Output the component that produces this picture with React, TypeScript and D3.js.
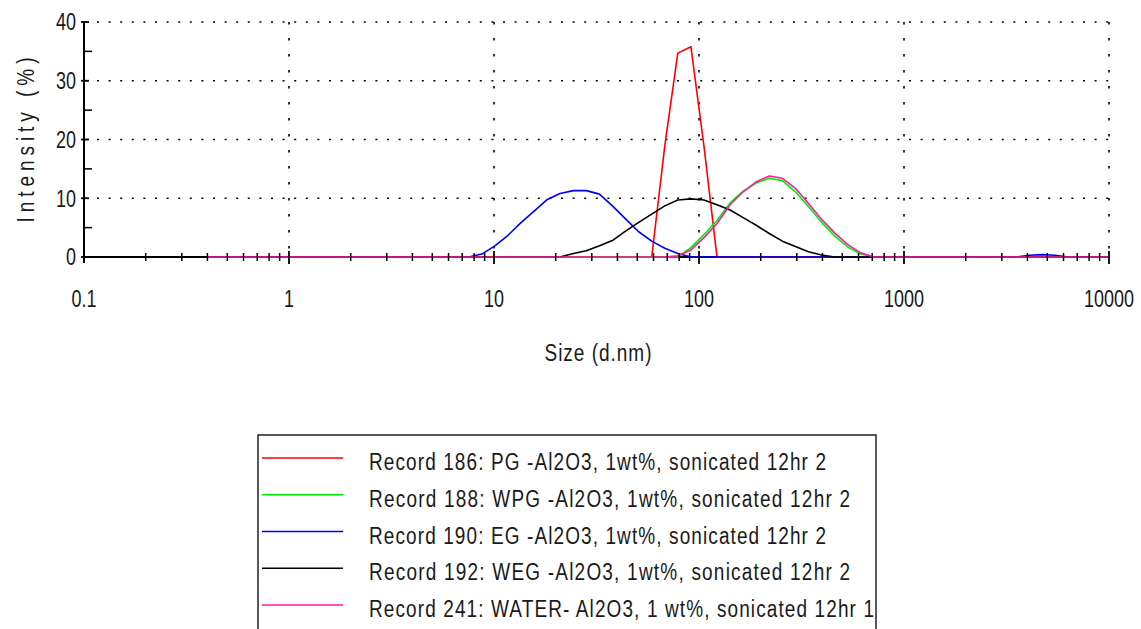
// @ts-nocheck
import React from "react";
import * as d3 from "d3";

// axis ticks
const xDecades = [0.1, 1, 10, 100, 1000, 10000];
const xTickLabels = ["0.1", "1", "10", "100", "1000", "10000"];
const yMajorTicks = [0, 10, 20, 30, 40];
const yMinorTicks = [5, 15, 25, 35];

// [size d.nm, intensity %]
const pg = [[0.4, 0], [58.8, 0], [68.1, 18.9], [78.8, 34.7], [91.3, 35.8], [105.7, 18.9], [122.4, 0], [10000, 0]];
const wpg = [[0.4, 0], [78.8, 0], [91.3, 1.6], [105.7, 3.8], [122.4, 6.2], [141.8, 9.2], [164.2, 11.2], [190.1, 12.6], [220.2, 13.4], [255, 13.0], [295.3, 11.1], [342, 8.6], [396.1, 5.9], [458.7, 3.6], [531.2, 1.7], [615.1, 0.5], [712.4, 0], [10000, 0]];
const eg = [[0.4, 0], [7.53, 0], [8.72, 0.5], [10.1, 1.9], [11.7, 3.7], [13.5, 5.8], [15.7, 7.8], [18.2, 9.8], [21.0, 10.8], [24.4, 11.3], [28.2, 11.3], [32.7, 10.7], [37.8, 8.7], [43.8, 6.5], [50.8, 4.3], [58.8, 2.7], [68.1, 1.5], [78.8, 0.6], [91.3, 0], [3519, 0], [4075, 0.3], [4719, 0.4], [5465, 0.3], [6329, 0], [10000, 0]];
const weg = [[0.4, 0], [21.0, 0], [24.4, 0.6], [28.2, 1.05], [32.7, 1.9], [37.8, 2.8], [43.8, 4.4], [50.8, 5.9], [58.8, 7.3], [68.1, 8.7], [78.8, 9.7], [91.3, 9.9], [105.7, 9.7], [122.4, 8.9], [141.8, 8.0], [164.2, 6.7], [190.1, 5.4], [220.2, 4.0], [255, 2.7], [295.3, 1.8], [342, 0.9], [396.1, 0.34], [458.7, 0], [10000, 0]];
const water = [[0.4, 0], [68.1, 0], [78.8, 0.2], [91.3, 1.2], [105.7, 3.3], [122.4, 5.7], [141.8, 8.9], [164.2, 11.1], [190.1, 12.8], [220.2, 13.8], [255, 13.4], [295.3, 11.7], [342, 9.1], [396.1, 6.4], [458.7, 4.1], [531.2, 2.1], [615.1, 0.7], [712.4, 0], [10000, 0]];

const seriesData = [pg, wpg, eg, weg, water];
const seriesNames = [
  "Record 186: PG -Al2O3, 1wt%, sonicated 12hr 2",
  "Record 188: WPG -Al2O3, 1wt%, sonicated 12hr 2",
  "Record 190: EG -Al2O3, 1wt%, sonicated 12hr 2",
  "Record 192: WEG -Al2O3, 1wt%, sonicated 12hr 2",
  "Record 241: WATER- Al2O3, 1 wt%, sonicated 12hr 1",
];
const seriesColors = ["#ff0000", "#00ee00", "#0000ff", "#000000", "#ff1aa3"];
const legendTextWidths = [457, 481, 457, 481, 505];

const FONT = "'Liberation Sans', Arial, sans-serif";
const TXT = "#1a1a1a";

const App = () => {
  const width = 1141;
  const height = 629;
  const xScale = d3.scaleLog().domain([0.1, 10000]).range([84, 1109]);
  const yScale = d3.scaleLinear().domain([0, 40]).range([257, 22]);
  const line = d3.line()
    .x((d) => xScale(d[0]))
    .y((d) => yScale(d[1]));

  const minorX = xScale.ticks().filter((t) => !xDecades.some((d) => Math.abs(d - t) / d < 1e-6));
  const [x0, x1] = xScale.range();
  const [y0, y1] = yScale.range();

  const legendY = d3.scaleLinear().domain([0, 4]).range([458, 605]);

  return (
    <svg
      width={width}
      height={height}
      style={{ position: "absolute", left: 0, top: 0, background: "#fff" }}
      fontFamily={FONT}
    >
      <rect width={width} height={height} fill="#fff" />

      {/* dotted grid */}
      {yMajorTicks.filter((t) => t > 0).map((t) => (
        <line key={"hg" + t} x1={x0 + 1} x2={x1} y1={yScale(t)} y2={yScale(t)}
          stroke="#000" strokeWidth={1.6} strokeDasharray="2 9.6" strokeDashoffset={-12} />
      ))}
      {xDecades.slice(1).map((d) => (
        <line key={"vg" + d} x1={xScale(d)} x2={xScale(d)} y1={y1} y2={y0}
          stroke="#000" strokeWidth={1.6} strokeDasharray="2.5 13.5" />
      ))}

      {/* axis lines */}
      <line x1={x0} x2={x1} y1={y0} y2={y0} stroke="#000" strokeWidth={2} />
      <line x1={x0} x2={x0} y1={y1} y2={y0 + 6} stroke="#000" strokeWidth={2} />

      {/* series */}
      {seriesData.map((s, i) => (
        <path key={"s" + i} d={line(s)} fill="none" stroke={seriesColors[i]} strokeWidth={1.6} strokeLinejoin="round" />
      ))}

      {/* x ticks */}
      {minorX.map((t, i) => (
        <line key={"xm" + i} x1={xScale(t)} x2={xScale(t)} y1={y0 - 4} y2={y0 + 4} stroke="#000" strokeWidth={1.5} />
      ))}
      {xDecades.slice(1).map((d) => (
        <line key={"xM" + d} x1={xScale(d)} x2={xScale(d)} y1={y0 - 6} y2={y0 + 7} stroke="#000" strokeWidth={1.8} />
      ))}
      {xDecades.map((d, i) => (
        <text key={"xl" + d} transform={`translate(${xScale(d)},307) scale(1,1.3)`} textAnchor="middle"
          fontSize={18} fill={TXT}>{xTickLabels[i]}</text>
      ))}

      {/* y ticks */}
      {yMinorTicks.map((t) => (
        <line key={"ym" + t} x1={x0} x2={x0 + 8} y1={yScale(t)} y2={yScale(t)} stroke="#000" strokeWidth={1.5} />
      ))}
      {yMajorTicks.map((t) => (
        <line key={"yM" + t} x1={x0 - 3} x2={x0 + 5} y1={yScale(t)} y2={yScale(t)} stroke="#000" strokeWidth={1.8} />
      ))}
      {yMajorTicks.map((t) => (
        <text key={"yl" + t} transform={`translate(76,${yScale(t) + 8.4}) scale(1,1.3)`} textAnchor="end"
          fontSize={18} fill={TXT}>{t}</text>
      ))}

      {/* axis titles */}
      <text transform="translate(34,140) rotate(-90) scale(1,1.3)" textAnchor="middle" fontSize={19}
        fill={TXT} textLength={165} lengthAdjust="spacing">Intensity (%)</text>
      <text transform="translate(598,361) scale(1,1.3)" textAnchor="middle" fontSize={19}
        fill={TXT} textLength={107} lengthAdjust="spacing">Size (d.nm)</text>

      {/* legend */}
      <rect x={258} y={435} width={618} height={220} fill="#fff" stroke="#222" strokeWidth={1.5} />
      {seriesNames.map((name, i) => (
        <g key={"lg" + i}>
          <line x1={262} x2={343} y1={legendY(i)} y2={legendY(i)} stroke={seriesColors[i]} strokeWidth={1.6} />
          <text transform={`translate(369,${legendY(i) + 12}) scale(1,1.3)`} fontSize={19} fill={TXT}
            textLength={legendTextWidths[i]} lengthAdjust="spacing">{name}</text>
        </g>
      ))}
    </svg>
  );
};

export default App;
